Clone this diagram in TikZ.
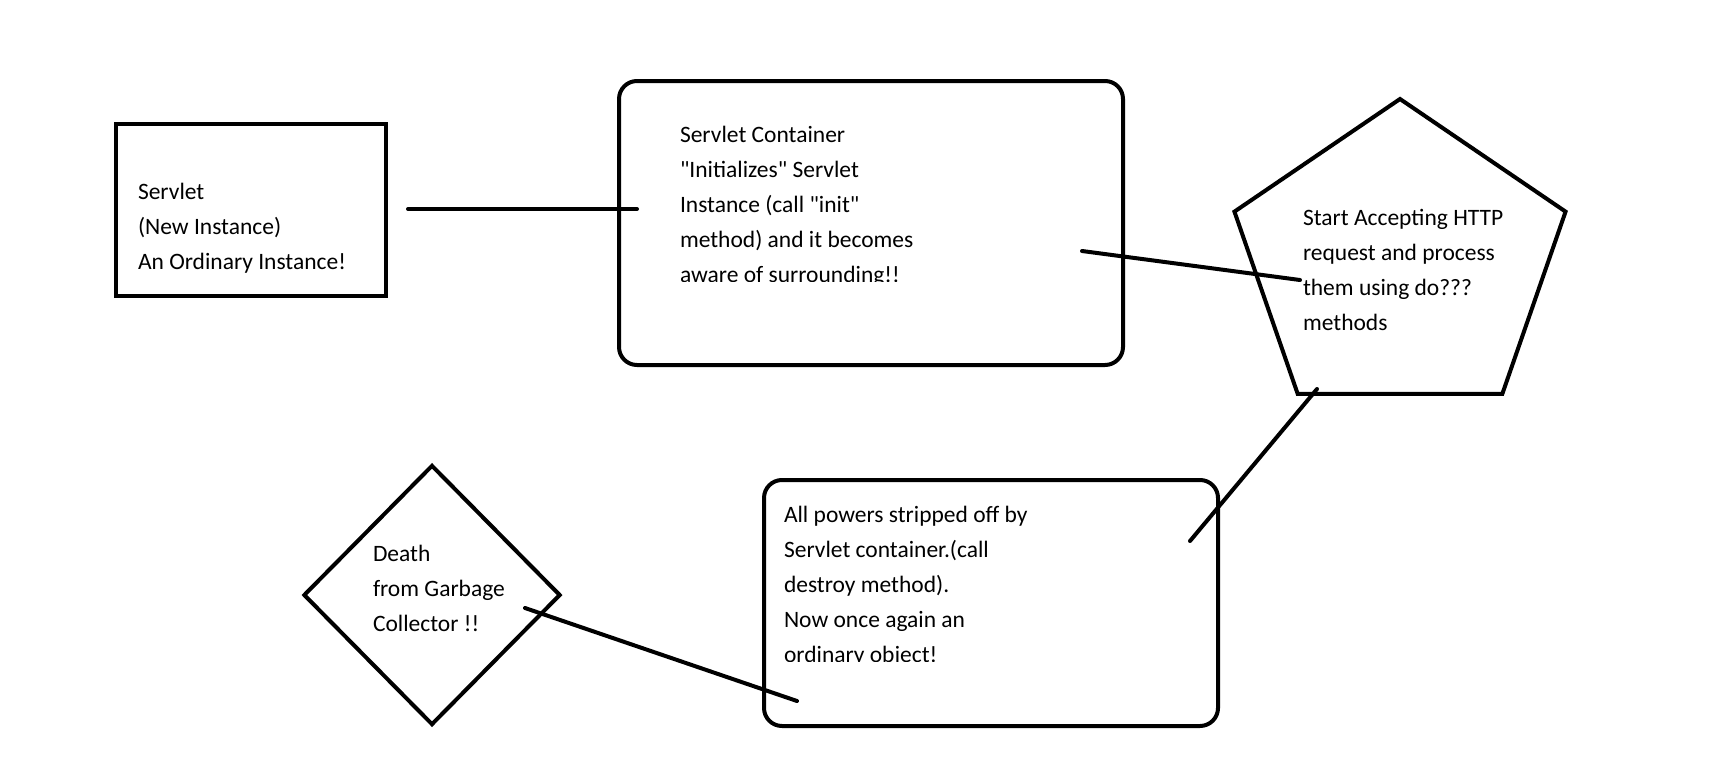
\documentclass[tikz,border=0pt]{standalone}
\usepackage{fontspec}
\setmainfont{Carlito}[Ligatures=TeXOff]
\usetikzlibrary{shapes.geometric}

\begin{document}
\begin{tikzpicture}[x=1pt, y=-1pt, line width=4pt,
  txt/.style={align=left, inner sep=0pt, anchor=north west, font=\fontsize{23.5}{35}\selectfont},
  link/.style={line cap=round}]

\useasboundingbox (0,0) rectangle (1731,760);

\node (servlet) [draw, rectangle, minimum width=270pt, minimum height=172pt] at (251, 210) {};
\node (servlettxt) [txt] at (136, 181) {Servlet \\ (New Instance) \\ An Ordinary Instance!};

\node (init) [draw, rectangle, rounded corners=18pt, minimum width=504pt, minimum height=284pt] at (871, 223) {};
\begin{scope}
  \clip (619, 81) rectangle (1123, 281);
  \node (inittxt) [txt] at (678, 124) {Servlet Container \\ "Initializes" Servlet \\ Instance (call "init" \\ method) and it becomes \\ aware of surrounding!!};
\end{scope}

\node (serve) [draw, regular polygon, regular polygon sides=5, minimum size=326pt, inner sep=0pt, xscale=1.068] at (1400, 262) {};
\node (servetxt) [txt] at (1301, 207) {Start Accepting HTTP \\ request and process \\ them using do??? \\ methods};

\node (destroy) [draw, rectangle, rounded corners=18pt, minimum width=454pt, minimum height=246pt] at (991, 603) {};
\begin{scope}
  \clip (764, 480) rectangle (1218, 661);
  \node (destroytxt) [txt] at (782, 504) {All powers stripped off by \\ Servlet container.(call \\ destroy method). \\ Now once again an \\ ordinary object!};
\end{scope}

\node (death) [draw, diamond, minimum width=257pt, minimum height=260pt, inner sep=0pt] at (432, 595) {};
\node (deathtxt) [txt] at (371, 543) {Death \\ from Garbage \\ Collector !!};

% free ends of the hand drawn links
\coordinate (a1) at (408, 209);
\coordinate (a2) at (637, 209);
\coordinate (b1) at (1082, 251);
\coordinate (b2) at (1300, 280);
\coordinate (c1) at (1317, 389);
\coordinate (c2) at (1190, 541);
\coordinate (d1) at (797, 701);
\coordinate (d2) at (525, 608);

\draw [link] (a1) -- (a2);
\draw [link] (b1) -- (b2);
\draw [link] (c1) -- (c2);
\draw [link] (d1) -- (d2);

\end{tikzpicture}
\end{document}
